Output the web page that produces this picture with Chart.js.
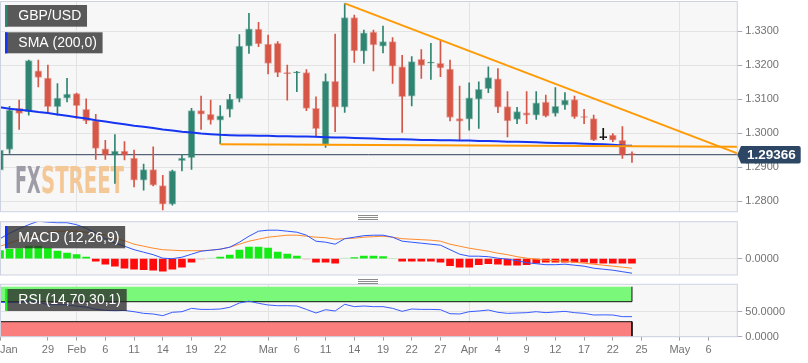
<!DOCTYPE html>
<html>
<head>
<meta charset="utf-8">
<script src="https://cdn.jsdelivr.net/npm/chart.js@4.4.1/dist/chart.umd.min.js"></script>
<style>
  html, body { margin: 0; padding: 0; background: #fff; }
  #wrap { position: relative; width: 808px; height: 363px; overflow: hidden; }
  canvas { position: absolute; left: 0; }
  .grip { position: absolute; left: 358px; width: 20px; height: 1px; background: #8c8c8c; z-index: 5; }
</style>
</head>
<body>
<div id="wrap">
  <canvas id="priceChart" width="808" height="213" style="top:0"></canvas>
  <canvas id="macdChart" width="808" height="64" style="top:216px"></canvas>
  <canvas id="rsiChart" width="808" height="83" style="top:280px"></canvas>
  <div class="grip" style="top:215px"></div>
  <div class="grip" style="top:217px"></div>
  <div class="grip" style="top:219px"></div>
  <div class="grip" style="top:279px"></div>
  <div class="grip" style="top:281px"></div>
  <div class="grip" style="top:283px"></div>
</div>
<script>
// GBP/USD daily, 22 Jan - 24 Apr 2019 (index 0 = Jan 22)
const open = [1.2891, 1.2952, 1.3073, 1.3063, 1.3183, 1.3162, 1.3078, 1.3103, 1.3116, 1.3070,
  1.3036, 1.2954, 1.2935, 1.2947, 1.2927, 1.2862, 1.2893, 1.2846, 1.2791, 1.2919,
  1.2928, 1.3066, 1.3055, 1.3038, 1.3070, 1.3101, 1.3256, 1.3306, 1.3262, 1.3264,
  1.3177, 1.3177, 1.3178, 1.3073, 1.2967, 1.3152, 1.3076, 1.3340, 1.3241, 1.3297,
  1.3256, 1.3269, 1.3195, 1.3109, 1.3217, 1.3206, 1.3205, 1.3188, 1.3043, 1.3041,
  1.3100, 1.3131, 1.3160, 1.3078, 1.3040, 1.3060, 1.3053, 1.3091, 1.3058, 1.3082,
  1.3099, 1.3049, 1.3043, 1.2987, 1.2994, 1.2979, 1.2937];
const high = [1.2974, 1.3079, 1.3097, 1.3215, 1.3215, 1.3200, 1.3146, 1.3161, 1.3118, 1.3101,
  1.3055, 1.2979, 1.2996, 1.2975, 1.2950, 1.2909, 1.2960, 1.2876, 1.2891, 1.2938,
  1.3073, 1.3109, 1.3097, 1.3081, 1.3114, 1.3290, 1.3352, 1.3326, 1.3288, 1.3269,
  1.3200, 1.3182, 1.3187, 1.3107, 1.3174, 1.3291, 1.3381, 1.3347, 1.3303, 1.3303,
  1.3315, 1.3281, 1.3229, 1.3225, 1.3246, 1.3264, 1.3272, 1.3215, 1.3138, 1.3148,
  1.3151, 1.3195, 1.3190, 1.3122, 1.3076, 1.3122, 1.3122, 1.3112, 1.3134, 1.3119,
  1.3109, 1.3070, 1.3053, 1.3014, 1.2999, 1.3019, 1.2945];
const low = [1.2857, 1.2940, 1.3011, 1.3053, 1.3136, 1.3058, 1.3053, 1.3092, 1.3043, 1.3028,
  1.2923, 1.2923, 1.2852, 1.2921, 1.2842, 1.2832, 1.2845, 1.2774, 1.2788, 1.2889,
  1.2893, 1.3011, 1.3026, 1.2968, 1.3048, 1.3092, 1.3234, 1.3254, 1.3174, 1.3166,
  1.3097, 1.3122, 1.3066, 1.2989, 1.2958, 1.3004, 1.3061, 1.3208, 1.3205, 1.3183,
  1.3236, 1.3146, 1.3002, 1.3080, 1.3161, 1.3158, 1.3166, 1.3036, 1.2978, 1.3009,
  1.3014, 1.3119, 1.3060, 1.2989, 1.3028, 1.3028, 1.3040, 1.3048, 1.3050, 1.3070,
  1.3043, 1.3028, 1.2978, 1.2981, 1.2975, 1.2926, 1.2914];
const close = [1.2950, 1.3068, 1.3058, 1.3213, 1.3164, 1.3078, 1.3103, 1.3115, 1.3081, 1.3036,
  1.2955, 1.2935, 1.2947, 1.2935, 1.2862, 1.2893, 1.2847, 1.2791, 1.2889, 1.2927,
  1.3066, 1.3056, 1.3038, 1.3051, 1.3100, 1.3256, 1.3307, 1.3262, 1.3205, 1.3178,
  1.3175, 1.3178, 1.3073, 1.3013, 1.3153, 1.3076, 1.3340, 1.3242, 1.3295, 1.3259,
  1.3269, 1.3197, 1.3107, 1.3210, 1.3199, 1.3208, 1.3192, 1.3046, 1.3035, 1.3104,
  1.3129, 1.3163, 1.3076, 1.3036, 1.3063, 1.3053, 1.3089, 1.3050, 1.3079, 1.3097,
  1.3048, 1.3046, 1.2979, 1.2987, 1.2979, 1.2935, 1.29366];
const sma200 = [1.3076, 1.3072, 1.3069, 1.3066, 1.3062, 1.3059, 1.3055, 1.3051, 1.3047, 1.3043,
  1.3038, 1.3034, 1.3030, 1.3026, 1.3022, 1.3019, 1.3015, 1.3011, 1.3008, 1.3004,
  1.3002, 1.2999, 1.2997, 1.2995, 1.2994, 1.2993, 1.2993, 1.2992, 1.2992, 1.2991,
  1.2991, 1.2990, 1.2990, 1.2989, 1.2988, 1.2987, 1.2987, 1.2986, 1.2985, 1.2984,
  1.2983, 1.2982, 1.2982, 1.2981, 1.2980, 1.2980, 1.2979, 1.2979, 1.2978, 1.2978,
  1.2977, 1.2977, 1.2976, 1.2975, 1.2975, 1.2974, 1.2973, 1.2972, 1.2971, 1.2970,
  1.2970, 1.2969, 1.2968, 1.2967, 1.2966, 1.2964, 1.2963];
const macdLine = [0.0040, 0.0051, 0.0060, 0.0068, 0.0075, 0.0073, 0.0072, 0.0072, 0.0068, 0.0061,
  0.0051, 0.0040, 0.0031, 0.0025, 0.0018, 0.0013, 0.0008, 0.0001, 0.0000, 0.0003,
  0.0009, 0.0015, 0.0017, 0.0019, 0.0023, 0.0033, 0.0045, 0.0055, 0.0057, 0.0057,
  0.0055, 0.0053, 0.0047, 0.0035, 0.0033, 0.0029, 0.0040, 0.0043, 0.0046, 0.0047,
  0.0047, 0.0043, 0.0035, 0.0033, 0.0031, 0.0029, 0.0027, 0.0018, 0.0009, 0.0005,
  0.0005, 0.0004, 0.0001, -0.0001, -0.0004, -0.0008, -0.0010, -0.0012, -0.0012, -0.0011,
  -0.0013, -0.0015, -0.0019, -0.0021, -0.0023, -0.0026, -0.0029];
const macdSignal = [0.0025, 0.0031, 0.0038, 0.0045, 0.0049, 0.0053, 0.0055, 0.0055, 0.0055, 0.0053,
  0.0051, 0.0047, 0.0041, 0.0036, 0.0029, 0.0025, 0.0021, 0.0018, 0.0017, 0.0016,
  0.0016, 0.0016, 0.0017, 0.0019, 0.0023, 0.0029, 0.0035, 0.0039, 0.0043, 0.0045,
  0.0047, 0.0047, 0.0045, 0.0043, 0.0042, 0.0039, 0.0040, 0.0041, 0.0043, 0.0044,
  0.0045, 0.0043, 0.0040, 0.0039, 0.0038, 0.0037, 0.0035, 0.0029, 0.0025, 0.0021,
  0.0018, 0.0015, 0.0011, 0.0008, 0.0004, 0.0001, -0.0001, -0.0003, -0.0004, -0.0005,
  -0.0007, -0.0009, -0.0011, -0.0013, -0.0015, -0.0017, -0.0019];
const macdHist = [0.0016, 0.0019, 0.0020, 0.0025, 0.0025, 0.0021, 0.0015, 0.0011, 0.0008, 0.0003,
  -0.0005, -0.0011, -0.0015, -0.0019, -0.0021, -0.0022, -0.0023, -0.0025, -0.0021, -0.0017,
  -0.0007, -0.0001, 0.0001, 0.0003, 0.0007, 0.0017, 0.0023, 0.0023, 0.0021, 0.0013,
  0.0009, 0.0005, -0.0001, -0.0007, -0.0007, -0.0009, 0.0001, 0.0002, 0.0005, 0.0005,
  0.0004, 0.0000, -0.0005, -0.0005, -0.0005, -0.0005, -0.0007, -0.0014, -0.0017, -0.0017,
  -0.0012, -0.0010, -0.0011, -0.0013, -0.0013, -0.0012, -0.0009, -0.0007, -0.0007, -0.0007,
  -0.0007, -0.0007, -0.0009, -0.0009, -0.0009, -0.0009, -0.0009];
const rsi14 = [68.8, 68.2, 68.7, 71.2, 69.2, 64.1, 64.1, 63.6, 61.1, 59.1,
  55.0, 52.5, 52.0, 52.5, 50.0, 46.7, 45.4, 42.1, 48.8, 50.0,
  56.7, 54.6, 54.6, 55.4, 58.8, 67.4, 71.0, 66.8, 63.4, 62.0,
  62.0, 61.4, 54.6, 47.4, 54.0, 51.4, 64.8, 60.1, 61.4, 60.1,
  60.1, 56.7, 50.7, 55.4, 54.6, 54.6, 54.0, 46.0, 45.4, 50.0,
  51.4, 53.4, 48.8, 46.7, 47.4, 48.1, 50.0, 48.1, 49.4, 50.7,
  48.1, 46.7, 43.4, 43.7, 43.4, 40.1, 40.1];
const lastPrice = 1.29366;
const supportLine = [[23, 1.29676], [77, 1.29597]];
const resistLine = [[36, 1.33815], [77, 1.29403]];
const priceTicks = [1.28, 1.29, 1.30, 1.31, 1.32, 1.33];
const macdTicks = [0];
const rsiTicks = [0, 50];
const xTickIdx = [0, 5, 8, 11, 14, 17, 20, 23, 28, 31, 34, 37, 40, 43, 46, 49, 52, 55, 58, 61, 64, 67, 71, 74, 77];
const xTickLabels = ['Jan', '29', 'Feb', '6', '11', '14', '19', '22', 'Mar', '6', '11', '14', '19', '22', '27',
  'Apr', '4', '9', '12', '17', '22', '25', 'May', '6', ''];
const monthIdx = [8, 28, 49, 71];

const FONT = '"Liberation Sans", Arial, sans-serif';
const AXIS_W = 70.7;
const idx = open.map((_, i) => i);
const last = idx.length - 1;

const UP = '#2f8571', DOWN = '#d65647', DOJI = '#111111';
const candleColor = idx.map(i => close[i] > open[i] ? UP : (close[i] < open[i] ? DOWN : DOJI));
const candleEdge = idx.map(i => close[i] > open[i] ? 'rgba(47,133,113,0.45)' :
  (close[i] < open[i] ? 'rgba(214,86,71,0.45)' : DOJI));

function xAxis(ticksAt, showLabels) {
  return {
    type: 'linear', min: 0, max: 77, offset: false,
    afterBuildTicks: s => { s.ticks = ticksAt.map(v => ({ value: v })); },
    afterFit: s => { s.paddingLeft = 0; s.paddingRight = 0; s.height = showLabels ? 26.3 : 0; },
    grid: {
      offset: false,
      color: c => (c.tick && monthIdx.includes(c.tick.value)) ? '#e3e3e3' : 'rgba(0,0,0,0)',
      drawTicks: showLabels, tickLength: 4,
      tickColor: c => (showLabels && xTickLabels[c.index]) ? '#a3a3a3' : 'rgba(0,0,0,0)'
    },
    border: { display: false },
    ticks: {
      display: showLabels, autoSkip: false, maxRotation: 0, align: 'inner', padding: 3,
      color: '#737373', font: { size: 11, family: FONT },
      callback: (v, i) => showLabels ? xTickLabels[i] : ''
    }
  };
}

function yAxis(min, max, ticksAt) {
  return {
    type: 'linear', position: 'right', min: min, max: max, beginAtZero: false,
    afterBuildTicks: s => { s.ticks = ticksAt.map(v => ({ value: v })); },
    afterFit: s => { s.width = AXIS_W; s.paddingTop = 0; s.paddingBottom = 0; },
    grid: { color: '#e3e3e3', tickColor: '#a9adba', tickLength: 5 },
    border: { display: false },
    ticks: { padding: 3, color: '#737373', font: { size: 11, family: FONT }, callback: v => v.toFixed(4) }
  };
}

const panelPlugin = {
  id: 'panel',
  beforeDraw(chart) {
    const a = chart.chartArea, ctx = chart.ctx;
    ctx.save();
    ctx.fillStyle = '#f7f7f7';
    ctx.fillRect(a.left, a.top, a.right - a.left, a.bottom - a.top);
    ctx.restore();
  },
  afterDraw(chart) {
    const a = chart.chartArea, ctx = chart.ctx;
    ctx.save();
    ctx.strokeStyle = '#cdd2e1';
    ctx.lineWidth = 1;
    ctx.strokeRect(a.left + 0.5, a.top, a.right - a.left - 0.5, a.bottom - a.top);
    ctx.restore();
  }
};

function labelBox(ctx, x, y, h, bar, text) {
  ctx.save();
  ctx.font = '14px ' + FONT;
  const w = ctx.measureText(text).width + 19;
  ctx.fillStyle = 'rgba(45,45,45,0.78)';
  ctx.fillRect(x, y, w, h);
  ctx.fillStyle = bar;
  ctx.fillRect(x, y, 2.5, h);
  ctx.fillStyle = '#ffffff';
  ctx.textBaseline = 'middle';
  ctx.fillText(text, x + 13.3, y + h / 2 + 0.5);
  ctx.restore();
}

const baseOptions = (padding) => ({
  responsive: false,
  animation: false,
  events: [],
  devicePixelRatio: 1,
  layout: { padding: padding },
  plugins: { legend: { display: false }, tooltip: { enabled: false } }
});

const line = (data, color, width, order) => ({
  type: 'line', data: data, borderColor: color, borderWidth: width,
  pointRadius: 0, tension: 0, fill: false, order: order
});

// ---------- price panel ----------
const pricePlugin = {
  id: 'priceOverlay',
  beforeDatasetsDraw(chart) {
    const ctx = chart.ctx;
    ctx.save();
    ctx.font = 'bold 38px "DejaVu Sans Condensed", "Liberation Sans Narrow", "Liberation Sans", sans-serif';
    [['FX', 15, 25.7, '#9d9ca7'], ['STREET', 41, 83, '#f4c796']].forEach(([t, x, w, c]) => {
      const m = ctx.measureText(t).width;
      ctx.save();
      ctx.translate(x, 193);
      ctx.scale(w / m, 1);
      ctx.fillStyle = c;
      ctx.fillText(t, 0, 0);
      ctx.restore();
    });
    ctx.restore();
  },
  afterDatasetsDraw(chart) {
    labelBox(chart.ctx, 5, 5, 21.7, UP, 'GBP/USD');
    labelBox(chart.ctx, 5, 32.3, 21, '#1535f2', 'SMA (200,0)');
  },
  afterDraw(chart) {
    const ctx = chart.ctx, a = chart.chartArea;
    const y = chart.scales.y.getPixelForValue(lastPrice);
    const x0 = a.right, x1 = 741, x2 = 800.7, h = 8.8;
    ctx.save();
    ctx.fillStyle = '#2c4664';
    ctx.beginPath();
    ctx.moveTo(x0, y);
    ctx.lineTo(x1, y - h);
    ctx.lineTo(x2 - 2, y - h);
    ctx.quadraticCurveTo(x2, y - h, x2, y - h + 2);
    ctx.lineTo(x2, y + h - 2);
    ctx.quadraticCurveTo(x2, y + h, x2 - 2, y + h);
    ctx.lineTo(x1, y + h);
    ctx.closePath();
    ctx.fill();
    ctx.fillStyle = '#ffffff';
    ctx.font = 'bold 13.5px ' + FONT;
    ctx.textAlign = 'center';
    ctx.textBaseline = 'middle';
    ctx.fillText(lastPrice.toFixed(5), (x1 + x2) / 2 + 0.5, y + 0.5);
    ctx.restore();
  }
};

new Chart(document.getElementById('priceChart'), {
  type: 'bar',
  data: {
    datasets: [
      line([{ x: 0, y: lastPrice }, { x: 77, y: lastPrice }], '#2d3f5a', 1, 5),
      {
        type: 'bar', data: idx.map(i => ({ x: i, y: [low[i], high[i]] })),
        backgroundColor: candleColor, borderWidth: 0, grouped: false,
        barThickness: 1, maxBarThickness: 1, order: 4
      },
      {
        type: 'bar', data: idx.map(i => ({ x: i, y: [open[i], close[i]] })),
        backgroundColor: candleColor, borderColor: candleEdge, borderWidth: 1, borderSkipped: false,
        grouped: false, barThickness: 7, maxBarThickness: 7, minBarLength: 1, order: 3
      },
      line(idx.map(i => ({ x: i, y: sma200[i] })), '#1535f2', 2, 2),
      line(supportLine.map(p => ({ x: p[0], y: p[1] })), '#ff9a05', 2, 1),
      line(resistLine.map(p => ({ x: p[0], y: p[1] })), '#ff9a05', 2, 1)
    ]
  },
  options: Object.assign(baseOptions({ top: 1.5, bottom: 1.3, left: 0, right: 0 }), {
    scales: { x: xAxis(monthIdx, false), y: yAxis(1.2769, 1.3387, priceTicks) }
  }),
  plugins: [panelPlugin, pricePlugin]
});

// ---------- MACD panel ----------
new Chart(document.getElementById('macdChart'), {
  type: 'bar',
  data: {
    datasets: [
      {
        type: 'bar', data: idx.map(i => ({ x: i, y: macdHist[i] })),
        backgroundColor: macdHist.map(v => v > 0.0001 ? '#14ea14' : (v >= 0 ? '#b6efb6' : (v >= -0.0001 ? '#f5b6b6' : '#ff0b0b'))),
        borderWidth: 0, grouped: false, barThickness: 7, maxBarThickness: 7, order: 3
      },
      line(idx.map(i => ({ x: i, y: macdSignal[i] })), '#ff8a2a', 1, 2),
      line(idx.map(i => ({ x: i, y: macdLine[i] })), '#2f55ff', 1, 1)
    ]
  },
  options: Object.assign(baseOptions({ top: 5.7, bottom: 5, left: 0, right: 0 }), {
    scales: { x: xAxis(monthIdx, false), y: yAxis(-0.00326, 0.0074, macdTicks) }
  }),
  plugins: [panelPlugin, {
    id: 'macdLabel',
    afterDatasetsDraw(chart) { labelBox(chart.ctx, 5, 10, 22.3, '#1133ff', 'MACD (12,26,9)'); }
  }]
});

// ---------- RSI panel ----------
new Chart(document.getElementById('rsiChart'), {
  type: 'bar',
  data: {
    datasets: [
      line([{ x: 0, y: 100 }, { x: last, y: 100 }], 'rgba(0,0,0,0)', 0, 5),
      Object.assign(line([{ x: 0, y: 70 }, { x: last, y: 70 }], 'rgba(0,0,0,0)', 0, 5), { fill: '-1', backgroundColor: '#79f879' }),
      Object.assign(line([{ x: 0, y: 30 }, { x: last, y: 30 }], 'rgba(0,0,0,0)', 0, 5), { fill: 'origin', backgroundColor: '#fb7e7e' }),
      line([{ x: 0, y: 100 }, { x: 0, y: 70 }, { x: last, y: 70 }, { x: last, y: 100 }], '#111111', 1, 4),
      line([{ x: 0, y: 0 }, { x: 0, y: 30 }, { x: last, y: 30 }, { x: last, y: 0 }], '#111111', 1, 4),
      line(idx.map(i => ({ x: i, y: rsi14[i] })), '#3a5cff', 1, 1)
    ]
  },
  options: Object.assign(baseOptions({ top: 4.3, bottom: 0, left: 0, right: 0 }), {
    scales: { x: xAxis(xTickIdx, true), y: yAxis(0, 104.8, rsiTicks) }
  }),
  plugins: [panelPlugin, {
    id: 'rsiLabel',
    afterDatasetsDraw(chart) { labelBox(chart.ctx, 5, 9, 22, '#22ee22', 'RSI (14,70,30,1)'); }
  }]
});
</script>
</body>
</html>
